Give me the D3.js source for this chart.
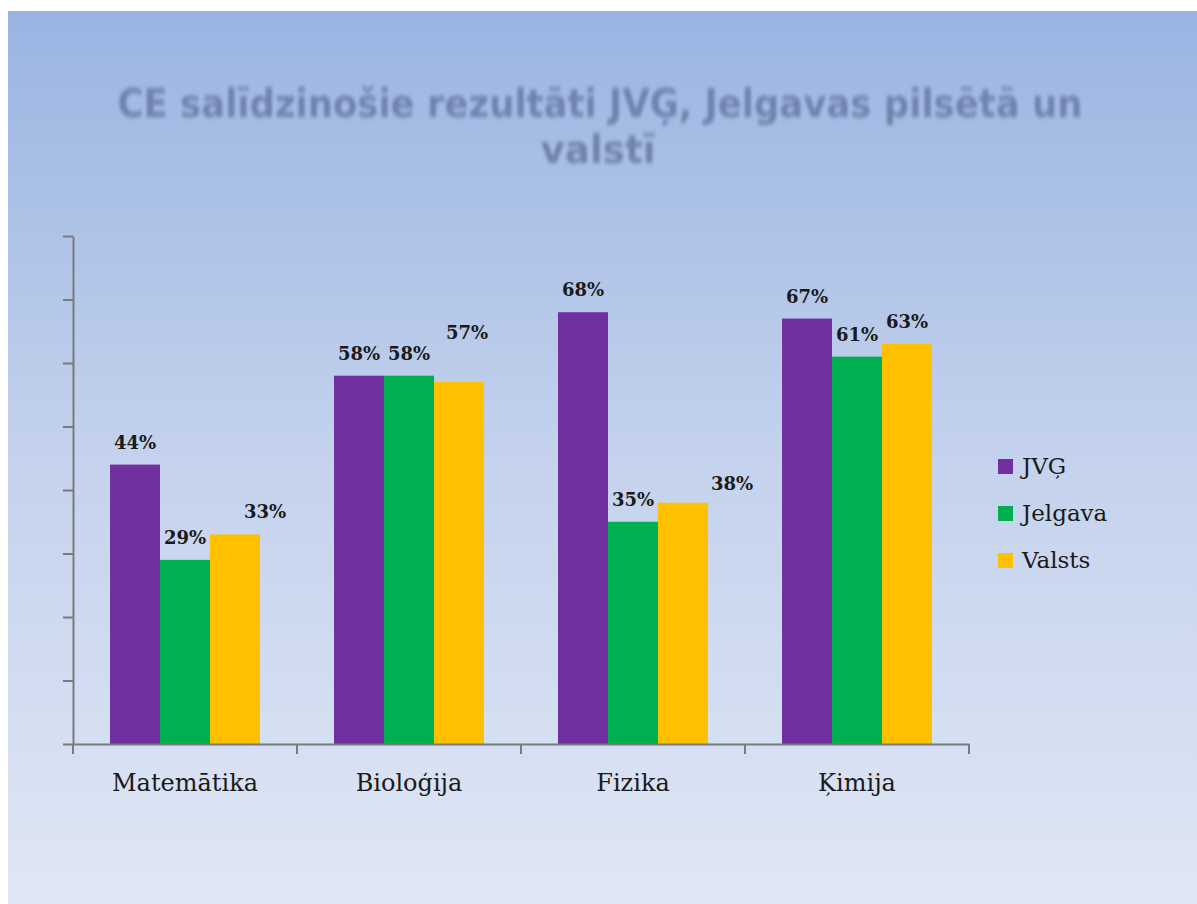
<!DOCTYPE html>
<html>
<head>
<meta charset="utf-8">
<script src="https://cdn.jsdelivr.net/npm/d3@7"></script>
<style>
  html, body { margin: 0; padding: 0; background: #ffffff; }
  svg { display: block; }
</style>
</head>
<body>
<svg id="chart" width="1197" height="904"></svg>
<script>
// ---- DATA ----
const titleLines = ["CE salīdzinošie rezultāti JVĢ, Jelgavas pilsētā un", "valstī"];
const categories = ["Matemātika", "Bioloģija", "Fizika", "Ķimija"];
const seriesNames = ["JVĢ", "Jelgava", "Valsts"];
const jvgValues = [0.44, 0.58, 0.68, 0.67];
const jelgavaValues = [0.29, 0.58, 0.35, 0.61];
const valstsValues = [0.33, 0.57, 0.38, 0.63];
const yTickValues = [0, 0.1, 0.2, 0.3, 0.4, 0.5, 0.6, 0.7, 0.8];

// ---- STYLE / LAYOUT ----
const colors = { "JVĢ": "#7030a0", "Jelgava": "#00b050", "Valsts": "#ffc000" };
const seriesValues = { "JVĢ": jvgValues, "Jelgava": jelgavaValues, "Valsts": valstsValues };
const plot = { left: 73, right: 969, top: 236, bottom: 744 };
const groupWidth = 150;
// manual label nudges (as in the original slide)
const labelNudge = {
  "Valsts|Matemātika": [30, 0],
  "Valsts|Bioloģija": [8, -27],
  "Valsts|Fizika": [49, 3]
};

const svg = d3.select("#chart");
const defs = svg.append("defs");
const grad = defs.append("linearGradient").attr("id", "bg").attr("x1", 0).attr("y1", 0).attr("x2", 0).attr("y2", 1);
grad.append("stop").attr("offset", "0%").attr("stop-color", "#9ab4e2");
grad.append("stop").attr("offset", "50%").attr("stop-color", "#c4d2ed");
grad.append("stop").attr("offset", "100%").attr("stop-color", "#e0e7f5");
const blur = defs.append("filter").attr("id", "blur").attr("filterUnits", "userSpaceOnUse")
  .attr("x", 60).attr("y", 40).attr("width", 1080).attr("height", 160);
blur.append("feGaussianBlur").attr("stdDeviation", "1.7 2.3");

svg.append("rect").attr("x", 8).attr("y", 11).attr("width", 1197 - 8).attr("height", 904 - 11).attr("fill", "url(#bg)");

// Title (two lines)
const titleG = svg.append("g").attr("filter", "url(#blur)");
titleG.selectAll("text").data(titleLines).join("text")
  .attr("x", (d, i) => i === 0 ? 600 : 598)
  .attr("y", (d, i) => i === 0 ? 117 : 163)
  .attr("textLength", (d, i) => i === 0 ? 965 : 115)
  .attr("lengthAdjust", "spacingAndGlyphs")
  .attr("text-anchor", "middle")
  .attr("font-family", "'DejaVu Sans Condensed', 'DejaVu Sans', sans-serif")
  .attr("font-weight", "bold").attr("font-size", 39)
  .attr("fill", "#7083ad")
  .text(d => d);

// Scales
const x0 = d3.scaleBand().domain(categories).range([plot.left, plot.right]).padding(0);
const x1 = d3.scaleBand().domain(seriesNames).range([0, groupWidth]).padding(0);
const y = d3.scaleLinear().domain([0, 0.8]).range([plot.bottom, plot.top]);
const groupOffset = (x0.bandwidth() - groupWidth) / 2;

// Bars
const groups = svg.append("g").selectAll("g").data(categories).join("g")
  .attr("transform", c => `translate(${x0(c) + groupOffset},0)`);
groups.selectAll("rect")
  .data((c, i) => seriesNames.map(s => ({ s, c, v: seriesValues[s][i] })))
  .join("rect")
  .attr("x", d => x1(d.s))
  .attr("y", d => y(d.v))
  .attr("width", x1.bandwidth())
  .attr("height", d => y(0) - y(d.v))
  .attr("fill", d => colors[d.s]);

// Value labels
groups.selectAll("text")
  .data((c, i) => seriesNames.map(s => ({ s, c, v: seriesValues[s][i] })))
  .join("text")
  .attr("x", d => x1(d.s) + x1.bandwidth() / 2 + (labelNudge[d.s + "|" + d.c] || [0, 0])[0])
  .attr("y", d => y(d.v) - 16 + (labelNudge[d.s + "|" + d.c] || [0, 0])[1])
  .attr("text-anchor", "middle")
  .attr("font-family", "'DejaVu Serif', serif")
  .attr("font-weight", "bold").attr("font-size", 18)
  .attr("fill", "#1a1a1a")
  .text(d => d3.format(".0%")(d.v));

// Axes
const axisColor = "#7a7a7a";
const yAxis = svg.append("g").attr("transform", `translate(${plot.left},0)`)
  .call(d3.axisLeft(y).tickValues(yTickValues).tickFormat("").tickSizeInner(10).tickSizeOuter(0));
const xAxis = svg.append("g").attr("transform", `translate(0,${plot.bottom})`)
  .call(d3.axisBottom(x0).tickSize(0).tickFormat(""));
// category boundary ticks
const boundaries = categories.map(c => x0(c)).concat([plot.right]);
xAxis.selectAll("line.bound").data(boundaries).join("line").attr("class", "bound")
  .attr("x1", d => d).attr("x2", d => d).attr("y1", 0).attr("y2", 10);
[yAxis, xAxis].forEach(a => {
  a.selectAll("path, line").attr("stroke", axisColor).attr("stroke-width", 2);
});

// Category labels
svg.append("g").selectAll("text").data(categories).join("text")
  .attr("x", c => x0(c) + x0.bandwidth() / 2)
  .attr("y", 791)
  .attr("text-anchor", "middle")
  .attr("font-family", "'DejaVu Serif', serif")
  .attr("font-size", 24)
  .attr("fill", "#1a1a1a")
  .text(c => c);

// Legend
const legend = svg.append("g").selectAll("g").data(seriesNames).join("g")
  .attr("transform", (s, i) => `translate(998,${459 + i * 47})`);
legend.append("rect").attr("width", 15).attr("height", 15).attr("fill", s => colors[s]);
legend.append("text").attr("x", 24).attr("y", 15)
  .attr("font-family", "'DejaVu Serif', serif")
  .attr("font-size", 23).attr("fill", "#1a1a1a")
  .text(s => s);
</script>
</body>
</html>
